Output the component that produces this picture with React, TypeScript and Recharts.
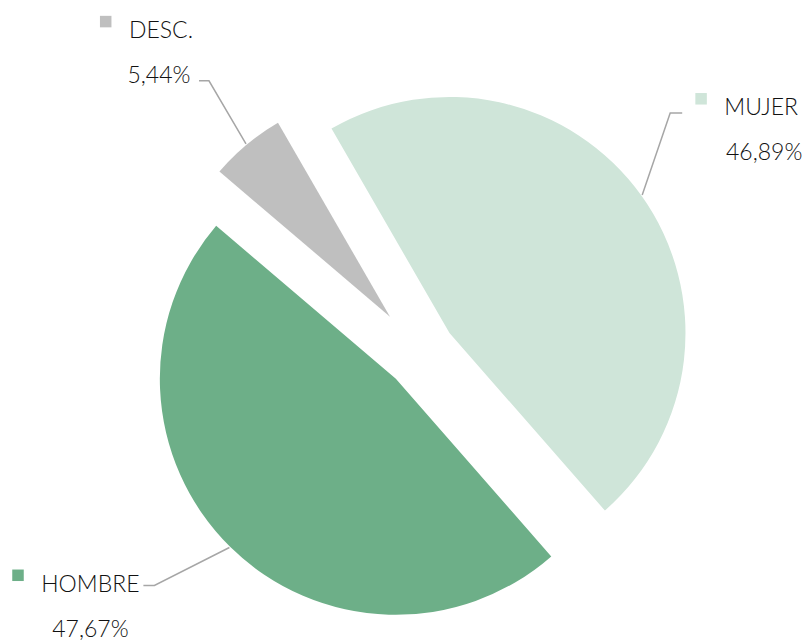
import React from 'react';
import { PieChart, Pie, Cell } from 'recharts';

const categories = ['MUJER', 'HOMBRE', 'DESC.'];
const shares = [46.89, 47.67, 5.44];
const shareLabels = ['46,89%', '47,67%', '5,44%'];

const COLORS = ['#cfe5d9', '#6daf88', '#bfbfbf'];
// how far each slice is pulled out, and its radius
const EXPLODE = [35.4, 35.4, 48];
const RADII = [236, 236, 224];
// label line elbow (from arc point), horizontal run, text centre (from line end), pct shift
const LABEL_LAYOUT = [
  { elbow: [28, -82], run: 12, text: [79, 2], pct: 3 },
  { elbow: [-75, 38], run: -11, text: [-53, 6], pct: 0 },
  { elbow: [-37, -63], run: -10, text: [-38, -43], pct: -2 },
];

const W = 810;
const H = 642;
const CX = 420.7;
const CY = 353.6;
const START = 120;
const RAD = Math.PI / 180;
const FONT_FAMILY = 'Lato, "Open Sans", sans-serif';
const FONT_SIZE = 23;

const data = categories.map((name, i) => ({ name, value: shares[i], label: shareLabels[i] }));
const total = shares.reduce((a, b) => a + b, 0);
const midAngles = shares.map((v, i) => {
  const before = shares.slice(0, i).reduce((a, b) => a + b, 0);
  return START - (360 * (before + v / 2)) / total;
});

let ctx: CanvasRenderingContext2D | null = null;
const measure = (s: string) => {
  if (!ctx) ctx = document.createElement('canvas').getContext('2d');
  if (!ctx) return s.length * FONT_SIZE * 0.6;
  ctx.font = `300 ${FONT_SIZE}px ${FONT_FAMILY}`;
  return ctx.measureText(s).width;
};

const makeLabel = (slice: number) => (props: any) => {
  if (props.index !== slice) return null;
  const { cx, cy, midAngle, outerRadius } = props;
  const lay = LABEL_LAYOUT[slice];
  const px = cx + (outerRadius + 1) * Math.cos(-midAngle * RAD);
  const py = cy + (outerRadius + 1) * Math.sin(-midAngle * RAD);
  const ex = px + lay.elbow[0];
  const ey = py + lay.elbow[1];
  const hx = ex + lay.run;
  const tx = hx + lay.text[0];
  const ty = ey + lay.text[1];
  const name = data[slice].name;
  const w = measure(name);
  const textStyle = { fontFamily: FONT_FAMILY, fontWeight: 300, fontSize: FONT_SIZE };
  return (
    <g>
      <polyline
        points={`${px},${py} ${ex},${ey} ${hx},${ey}`}
        fill="none"
        stroke="#a6a6a6"
        strokeWidth={1.5}
      />
      <rect x={tx - w / 2 - 29} y={ty - 22} width={11.5} height={11.5} fill={COLORS[slice]} />
      <text x={tx} y={ty} textAnchor="middle" fill="#111" style={textStyle}>
        {name}
      </text>
      <text x={tx + lay.pct} y={ty + 45} textAnchor="middle" fill="#111" style={textStyle}>
        {data[slice].label}
      </text>
    </g>
  );
};

const App: React.FC = () => {
  return (
    <div style={{ position: 'absolute', left: 0, top: 0, width: W, height: H, background: '#fff' }}>
      <PieChart width={W} height={H} margin={{ top: 0, right: 0, bottom: 0, left: 0 }}>
        {categories.map((_, i) => (
          <Pie
            key={`pie-${i}`}
            data={data}
            dataKey="value"
            nameKey="name"
            cx={CX + EXPLODE[i] * Math.cos(-midAngles[i] * RAD)}
            cy={CY + EXPLODE[i] * Math.sin(-midAngles[i] * RAD)}
            outerRadius={RADII[i]}
            startAngle={START}
            endAngle={START - 360}
            stroke="none"
            labelLine={false}
            label={makeLabel(i)}
            isAnimationActive={false}
          >
            {data.map((entry, j) => (
              <Cell key={`cell-${i}-${j}`} fill={j === i ? COLORS[i] : 'transparent'} />
            ))}
          </Pie>
        ))}
      </PieChart>
    </div>
  );
};

export default App;
